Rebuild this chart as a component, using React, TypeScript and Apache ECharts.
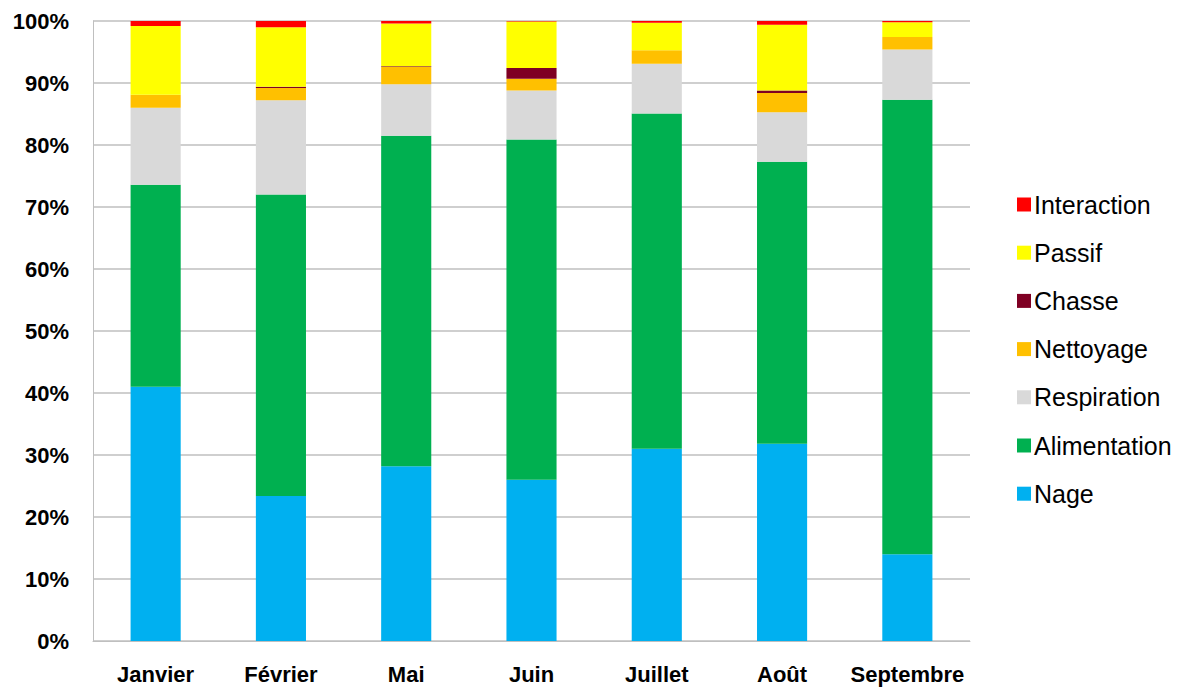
import React, { useEffect, useRef } from "react";
import * as echarts from "echarts";

const categories = ["Janvier", "Février", "Mai", "Juin", "Juillet", "Août", "Septembre"];

const nage = [41.0, 23.4, 28.2, 26.0, 31.0, 31.8, 14.0];
const alimentation = [32.6, 48.6, 53.3, 54.9, 54.1, 45.5, 73.3];
const respiration = [12.4, 15.2, 8.3, 7.9, 8.0, 8.0, 8.1];
const nettoyage = [2.1, 2.0, 2.8, 1.9, 2.2, 3.1, 2.0];
const chasse = [0.0, 0.2, 0.1, 1.7, 0.0, 0.4, 0.0];
const passif = [11.1, 9.6, 6.9, 7.5, 4.4, 10.6, 2.4];
const interaction = [0.8, 1.0, 0.4, 0.1, 0.3, 0.6, 0.2];

const yTicks = [0, 10, 20, 30, 40, 50, 60, 70, 80, 90, 100];

const seriesDefs = [
  { name: "Nage", data: nage, color: "#00B0F0" },
  { name: "Alimentation", data: alimentation, color: "#00B050" },
  { name: "Respiration", data: respiration, color: "#D9D9D9" },
  { name: "Nettoyage", data: nettoyage, color: "#FFC000" },
  { name: "Chasse", data: chasse, color: "#7F0023" },
  { name: "Passif", data: passif, color: "#FFFF00" },
  { name: "Interaction", data: interaction, color: "#FF0000" },
];

const FONT = "'Liberation Sans', Arial, sans-serif";

export default function App() {
  const ref = useRef<HTMLDivElement>(null);

  useEffect(() => {
    if (!ref.current) return;
    const chart = echarts.init(ref.current, null, { renderer: "svg" });
    chart.setOption({
      animation: false,
      backgroundColor: "#ffffff",
      textStyle: { fontFamily: FONT },
      grid: { left: 93, right: 208, top: 21, bottom: 47 },
      legend: {
        orient: "vertical",
        left: 1012,
        top: 187,
        itemWidth: 14,
        itemHeight: 14,
        itemGap: 23.2,
        icon: "rect",
        data: seriesDefs.map((s) => s.name).reverse(),
        textStyle: { fontSize: 25, color: "#000", fontFamily: FONT, padding: [0, 0, 0, -2] },
      },
      xAxis: {
        type: "category",
        data: categories,
        axisLine: { show: true, lineStyle: { color: "#BFBFBF", width: 1 } },
        axisTick: { show: false },
        axisLabel: {
          interval: 0,
          fontSize: 22,
          fontWeight: "bold",
          color: "#000",
          margin: 22,
          fontFamily: FONT,
        },
      },
      yAxis: {
        type: "value",
        min: yTicks[0],
        max: yTicks[yTicks.length - 1],
        interval: 10,
        axisLine: { show: true, lineStyle: { color: "#BFBFBF", width: 1 } },
        axisTick: { show: false },
        splitLine: { show: true, lineStyle: { color: "#BFBFBF", width: 1.5 } },
        axisLabel: {
          fontSize: 22,
          fontWeight: "bold",
          color: "#000",
          margin: 24,
          fontFamily: FONT,
          formatter: (v: number) => `${v}%`,
        },
      },
      series: seriesDefs.map((s) => ({
        name: s.name,
        type: "bar",
        stack: "total",
        data: s.data,
        barWidth: "40%",
        itemStyle: { color: s.color },
      })),
    });
    return () => chart.dispose();
  }, []);

  return (
    <div
      ref={ref}
      style={{ position: "fixed", left: 0, top: 0, width: 1178, height: 688, background: "#fff" }}
    />
  );
}
